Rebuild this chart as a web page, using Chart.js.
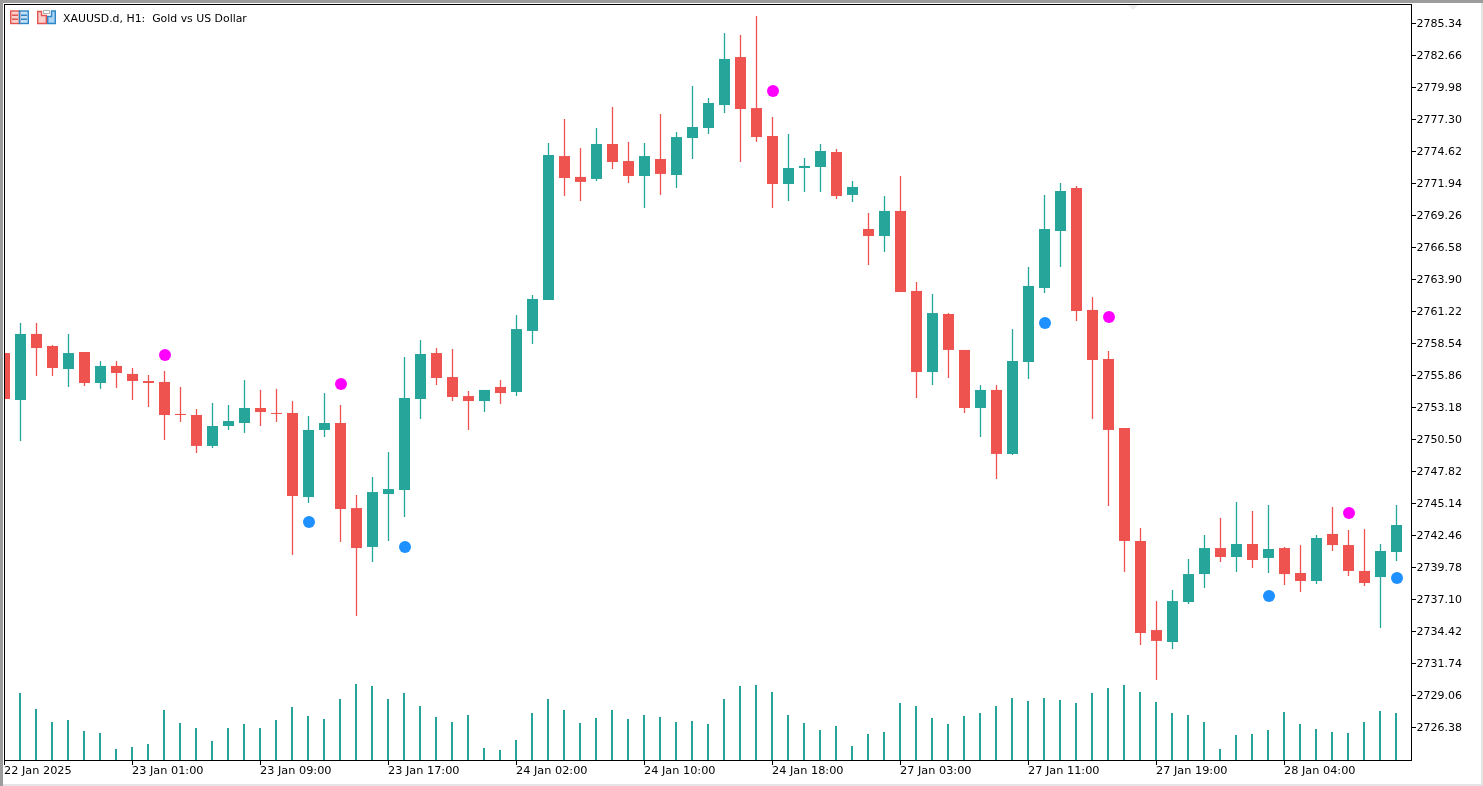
<!DOCTYPE html>
<html>
<head>
<meta charset="utf-8">
<title>XAUUSD.d, H1</title>
<style>
  html, body { margin: 0; padding: 0; background: #fff; overflow: hidden; }
  canvas { display: block; }
</style>
<script src="https://cdn.jsdelivr.net/npm/chart.js@4/dist/chart.umd.js"></script>
</head>
<body>
<canvas id="chart" width="1483" height="786"></canvas>
<script>
const chartTitle = 'XAUUSD.d, H1:  Gold vs US Dollar';

const opens = [2757.74, 2753.81, 2759.34, 2758.33, 2756.40, 2757.83, 2755.23, 2756.66, 2755.99, 2755.40, 2755.32,
  2752.64, 2752.55, 2749.96, 2751.63, 2751.88, 2753.14, 2752.72, 2752.72, 2745.68, 2751.30, 2751.88,
  2744.76, 2741.50, 2745.93, 2746.27, 2753.89, 2757.74, 2755.73, 2754.14, 2753.72, 2754.90, 2754.48,
  2759.59, 2762.18, 2774.24, 2772.49, 2772.32, 2775.25, 2773.82, 2772.57, 2773.99, 2772.65, 2775.75,
  2776.59, 2778.51, 2782.53, 2778.26, 2775.92, 2771.90, 2773.24, 2773.32, 2774.58, 2770.98, 2768.13,
  2767.54, 2769.64, 2762.94, 2756.15, 2761.01, 2758.00, 2753.14, 2754.65, 2749.29, 2756.99, 2763.19,
  2767.96, 2771.56, 2761.35, 2757.24, 2751.46, 2742.00, 2734.54, 2733.54, 2736.89, 2739.23, 2741.41,
  2740.66, 2741.75, 2740.58, 2741.41, 2739.32, 2738.65, 2742.59, 2741.66, 2739.49, 2738.98, 2741.08];

const highs = [2757.74, 2760.26, 2760.26, 2758.41, 2759.34, 2757.83, 2757.07, 2757.07, 2756.49, 2755.90, 2756.24,
  2754.90, 2753.05, 2753.56, 2753.39, 2755.48, 2754.65, 2754.74, 2753.72, 2752.47, 2754.39, 2753.39,
  2745.85, 2747.36, 2749.45, 2757.41, 2758.83, 2758.16, 2758.08, 2754.56, 2754.65, 2755.48, 2760.92,
  2762.60, 2775.33, 2777.34, 2774.91, 2776.59, 2778.35, 2775.42, 2775.33, 2777.76, 2776.25, 2780.11,
  2779.10, 2784.54, 2784.38, 2785.97, 2777.51, 2776.09, 2774.08, 2775.25, 2774.83, 2772.15, 2769.47,
  2770.89, 2772.57, 2763.69, 2762.69, 2761.09, 2758.00, 2755.06, 2755.06, 2759.75, 2764.95, 2770.98,
  2771.98, 2771.73, 2762.43, 2757.91, 2751.46, 2743.09, 2736.97, 2737.90, 2740.49, 2742.50, 2743.93,
  2745.27, 2744.51, 2745.02, 2741.50, 2741.66, 2742.50, 2744.85, 2742.92, 2743.00, 2741.75, 2745.02];

const lows = [2753.89, 2750.37, 2755.82, 2755.82, 2754.90, 2754.98, 2754.74, 2754.81, 2753.81, 2753.22, 2750.46,
  2751.97, 2749.37, 2749.79, 2751.30, 2751.05, 2751.63, 2751.97, 2740.83, 2745.18, 2750.71, 2741.92,
  2735.72, 2740.24, 2742.00, 2744.01, 2752.22, 2755.06, 2753.72, 2751.30, 2752.80, 2753.47, 2754.14,
  2758.50, 2762.18, 2770.89, 2770.47, 2772.15, 2773.15, 2771.98, 2769.89, 2770.98, 2771.56, 2773.99,
  2776.09, 2777.84, 2773.74, 2775.42, 2769.89, 2770.47, 2771.23, 2771.23, 2770.64, 2770.39, 2765.11,
  2766.20, 2762.85, 2753.97, 2755.06, 2755.65, 2752.72, 2750.71, 2747.19, 2749.20, 2755.57, 2762.77,
  2764.95, 2760.42, 2752.22, 2744.93, 2739.40, 2733.29, 2730.36, 2732.95, 2736.72, 2738.06, 2740.24,
  2739.40, 2739.74, 2739.32, 2738.31, 2737.73, 2738.40, 2741.16, 2739.07, 2738.23, 2734.71, 2740.32];

const closes = [2753.89, 2759.34, 2758.16, 2756.49, 2757.74, 2755.23, 2756.66, 2756.07, 2755.40, 2755.23, 2752.55,
  2752.55, 2749.96, 2751.63, 2752.05, 2753.14, 2752.80, 2752.64, 2745.77, 2751.30, 2751.88, 2744.68,
  2741.41, 2746.10, 2746.35, 2753.97, 2757.66, 2755.65, 2754.06, 2753.72, 2754.65, 2754.39, 2759.75,
  2762.27, 2774.33, 2772.40, 2772.07, 2775.25, 2773.74, 2772.57, 2774.24, 2772.74, 2775.83, 2776.67,
  2778.68, 2782.37, 2778.18, 2775.83, 2771.90, 2773.24, 2773.41, 2774.66, 2770.89, 2771.65, 2767.54,
  2769.64, 2762.85, 2756.15, 2761.09, 2758.00, 2753.14, 2754.65, 2749.29, 2757.07, 2763.36, 2768.13,
  2771.31, 2761.26, 2757.16, 2751.30, 2742.00, 2734.29, 2733.63, 2736.97, 2739.23, 2741.41, 2740.66,
  2741.75, 2740.41, 2741.33, 2739.23, 2738.65, 2742.25, 2741.66, 2739.49, 2738.48, 2741.16, 2743.34];

// tick volume, first bar sits behind the frame
const volumes = [60, 67, 51, 38, 40, 29, 27, 11, 13, 16, 50, 37, 32, 19, 32, 36, 32, 40, 53, 44, 41, 61,
  76, 74, 61, 67, 54, 43, 38, 45, 12, 10, 20, 47, 61, 50, 37, 42, 50, 41, 45, 43, 38, 39,
  36, 61, 74, 75, 68, 45, 37, 30, 34, 14, 26, 28, 57, 54, 42, 36, 44, 47, 54, 62, 59, 62,
  60, 57, 67, 72, 75, 68, 58, 47, 45, 38, 11, 25, 26, 30, 48, 36, 31, 28, 27, 38, 49, 47];

// signal dots
const sellIndex = [10, 21, 48, 69, 84];
const sellPrice = [2757.58, 2755.15, 2779.69, 2760.76, 2744.34];
const buyIndex = [19, 25, 65, 79, 87];
const buyPrice = [2743.59, 2741.50, 2760.26, 2737.39, 2738.90];

const priceTicks = [2785.34, 2782.66, 2779.98, 2777.30, 2774.62, 2771.94, 2769.26, 2766.58, 2763.90, 2761.22,
  2758.54, 2755.86, 2753.18, 2750.50, 2747.82, 2745.14, 2742.46, 2739.78, 2737.10, 2734.42, 2731.74,
  2729.06, 2726.38];
const timeTickIndex = [0, 8, 16, 24, 32, 40, 48, 56, 64, 72, 80];
const timeTickLabels = ['22 Jan 2025', '23 Jan 01:00', '23 Jan 09:00', '23 Jan 17:00', '24 Jan 02:00',
  '24 Jan 10:00', '24 Jan 18:00', '27 Jan 03:00', '27 Jan 11:00', '27 Jan 19:00', '28 Jan 04:00'];

const UP = '#26a69a';
const DOWN = '#ef5350';
const candleColor = opens.map((o, i) => closes[i] >= o ? UP : DOWN);

// one candle = 16px, plot runs from x=5 to x=1411
const barsInView = 1406 / 16;

// draws the terminal frame, the little toolbar icons, the title and the axis text
const terminalFrame = {
  id: 'terminalFrame',
  beforeDraw(chart) {
    const c = chart.ctx;
    c.save();
    c.fillStyle = '#fff';
    c.fillRect(0, 0, 1483, 786);
    c.fillStyle = '#e4e4e4';
    c.fillRect(1481, 0, 2, 786);
    c.fillRect(0, 784, 1483, 2);
    c.fillStyle = '#9c9c9c';
    c.fillRect(0, 0, 1483, 3);
    c.fillRect(0, 0, 3, 786);
    c.restore();
  },
  afterDraw(chart) {
    const c = chart.ctx;
    c.save();
    c.strokeStyle = '#000';
    c.lineWidth = 1;
    c.strokeRect(4.5, 4.5, 1407, 756);

    // shift marker at the top edge
    c.fillStyle = '#eeeeee';
    c.beginPath();
    c.moveTo(1128, 5);
    c.lineTo(1138, 5);
    c.lineTo(1133, 10);
    c.fill();

    drawIcons(c);

    c.fillStyle = '#000';
    c.textBaseline = 'middle';
    c.textAlign = 'left';
    c.font = '10.9px "DejaVu Sans"';
    c.fillText(chartTitle, 63, 19);

    // chart.js keeps the tick marks, text goes 1px off its default spot
    c.font = '11px "DejaVu Sans"';
    priceTicks.forEach(v => {
      c.fillText(v.toFixed(2), 1416.5, chart.scales.y.getPixelForValue(v) + 0.7);
    });
    c.font = '11.3px "DejaVu Sans"';
    timeTickIndex.forEach((v, i) => {
      c.fillText(timeTickLabels[i], chart.scales.x.getPixelForValue(v) - 0.5, 771.5);
    });
    c.restore();
  }
};

function drawIcons(c) {
  const red = '#e0554f', blue = '#2f86c6';
  c.lineWidth = 1.4;
  // list icon
  c.fillStyle = '#fbd0cc';
  c.fillRect(10.7, 11, 9, 12.5);
  c.fillStyle = '#c4e0f5';
  c.fillRect(19.5, 11, 9, 12.5);
  c.strokeStyle = red;
  c.strokeRect(10.7, 11, 8.8, 12.5);
  c.strokeStyle = blue;
  c.strokeRect(19.5, 11, 8.8, 12.5);
  c.strokeStyle = red;
  c.beginPath();
  c.moveTo(12, 15.3); c.lineTo(18, 15.3);
  c.moveTo(12, 19.3); c.lineTo(18, 19.3);
  c.stroke();
  c.strokeStyle = blue;
  c.beginPath();
  c.moveTo(21, 15.3); c.lineTo(27, 15.3);
  c.moveTo(21, 19.3); c.lineTo(27, 19.3);
  c.stroke();
  // shapes icon
  c.fillStyle = '#fbd0cc';
  c.strokeStyle = red;
  c.beginPath();
  c.moveTo(37.7, 23.5); c.lineTo(37.7, 11.5); c.lineTo(41.5, 11.5); c.lineTo(41.5, 15.5);
  c.lineTo(46.3, 15.5); c.lineTo(46.3, 23.5); c.closePath();
  c.fill(); c.stroke();
  c.fillStyle = '#a9d4f3';
  c.strokeStyle = blue;
  c.beginPath();
  c.moveTo(47.7, 23.5); c.lineTo(47.7, 16.5); c.lineTo(51.5, 16.5); c.lineTo(51.5, 11);
  c.lineTo(55.3, 11); c.lineTo(55.3, 23.5); c.closePath();
  c.fill(); c.stroke();
  c.lineWidth = 1;
  c.strokeStyle = '#b5b5b5';
  c.strokeRect(43.5, 10.5, 6, 3);
}

// hide the axis but keep it aligned with the plot, shifted by a part of a pixel
const hiddenTimeAxis = (shiftPx) => ({
  type: 'linear',
  display: false,
  offset: false,
  min: 0.03125 + shiftPx / 16,
  max: 0.03125 + shiftPx / 16 + barsInView
});

// labels hanging over the plot edge must not shrink the plot
const noScalePadding = (s) => {
  s.paddingLeft = s.paddingRight = s.paddingTop = s.paddingBottom = 0;
};

new Chart(document.getElementById('chart'), {
  data: {
    datasets: [
      {
        type: 'scatter',
        order: 1,
        xAxisID: 'xDots',
        yAxisID: 'y',
        data: sellIndex.map((x, i) => ({ x, y: sellPrice[i] })),
        pointRadius: 6,
        pointBackgroundColor: '#ff00ff',
        pointBorderWidth: 0
      },
      {
        type: 'scatter',
        order: 1,
        xAxisID: 'xDots',
        yAxisID: 'y',
        data: buyIndex.map((x, i) => ({ x, y: buyPrice[i] })),
        pointRadius: 6,
        pointBackgroundColor: '#1e90ff',
        pointBorderWidth: 0
      },
      {
        type: 'bar',
        order: 2,
        xAxisID: 'x',
        yAxisID: 'y',
        data: opens.map((o, i) => ({ x: i, y: [o, closes[i]] })),
        backgroundColor: candleColor,
        barThickness: 11,
        minBarLength: 1,
        grouped: false,
        inflateAmount: 0,
        borderWidth: 0
      },
      {
        type: 'bar',
        order: 3,
        xAxisID: 'x',
        yAxisID: 'y',
        data: lows.map((l, i) => ({ x: i, y: [l, highs[i]] })),
        backgroundColor: candleColor,
        barThickness: 1.3,
        grouped: false,
        inflateAmount: 0,
        borderWidth: 0
      },
      {
        type: 'bar',
        order: 4,
        xAxisID: 'xVol',
        yAxisID: 'yVol',
        data: volumes.map((v, i) => ({ x: i, y: v })),
        backgroundColor: UP,
        barThickness: 2,
        grouped: false,
        inflateAmount: 0,
        borderWidth: 0
      }
    ]
  },
  options: {
    responsive: false,
    animation: false,
    devicePixelRatio: 1,
    layout: { autoPadding: false, padding: { left: 5, top: 5 } },
    plugins: { legend: { display: false }, tooltip: { enabled: false } },
    scales: {
      x: {
        type: 'linear',
        position: 'bottom',
        offset: false,
        min: 0.03125,
        max: 0.03125 + barsInView,
        afterFit: (s) => { s.height = 26; noScalePadding(s); },
        afterBuildTicks: (s) => { s.ticks = timeTickIndex.map(value => ({ value })); },
        border: { display: false },
        grid: { offset: false, drawOnChartArea: false, color: '#000', tickLength: 5, tickWidth: 1 },
        ticks: { display: false, autoSkip: false, maxRotation: 0 }
      },
      xVol: hiddenTimeAxis(0.5),
      xDots: hiddenTimeAxis(-0.5),
      y: {
        type: 'linear',
        position: 'right',
        min: 2723.658,
        max: 2786.889,
        afterFit: (s) => { s.width = 72; noScalePadding(s); },
        afterBuildTicks: (s) => { s.ticks = priceTicks.map(value => ({ value })); },
        border: { display: false },
        grid: { drawOnChartArea: false, color: '#000', tickLength: 5, tickWidth: 1 },
        ticks: { display: false, autoSkip: false }
      },
      yVol: {
        type: 'linear',
        display: false,
        min: 0,
        max: 755
      }
    }
  },
  plugins: [terminalFrame]
});
</script>
</body>
</html>
